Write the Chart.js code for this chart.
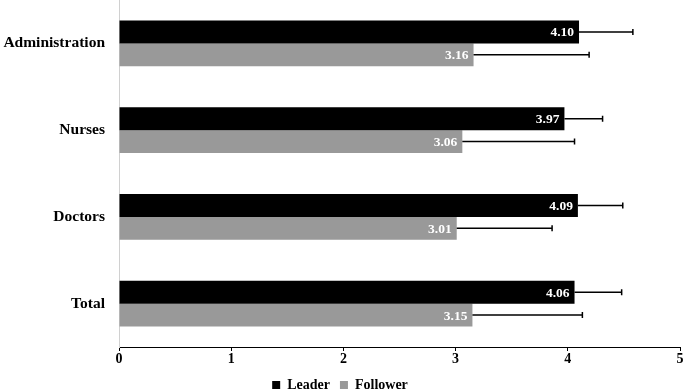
<!DOCTYPE html>
<html><head><meta charset="utf-8">
<script src="https://cdn.jsdelivr.net/npm/chart.js@4.4.1/dist/chart.umd.min.js"></script>
<style>html,body{margin:0;padding:0;background:#fff}#wrap{width:685px;height:392px}</style>
</head><body><div id="wrap"><canvas id="c" width="685" height="392"></canvas></div>
<script>
const categories = ["Administration", "Nurses", "Doctors", "Total"];
const leader = [4.10, 3.97, 4.09, 4.06];
const follower = [3.16, 3.06, 3.01, 3.15];
const leaderErrTop = [4.58, 4.31, 4.49, 4.48];
const followerErrTop = [4.19, 4.06, 3.86, 4.13];
const xTicks = [0, 1, 2, 3, 4, 5];

const FONT = "'Liberation Serif', 'Times New Roman', serif";

const errPlugin = {
  id: 'errbars',
  afterDatasetsDraw(chart) {
    const ctx = chart.ctx;
    const xs = chart.scales.x;
    const tops = [leaderErrTop, followerErrTop];
    chart.data.datasets.forEach((ds, di) => {
      const meta = chart.getDatasetMeta(di);
      meta.data.forEach((bar, i) => {
        const x0 = bar.x;
        const x1 = xs.getPixelForValue(tops[di][i]);
        const y = bar.y;
        ctx.save();
        ctx.strokeStyle = '#000';
        ctx.lineWidth = 1.5;
        ctx.beginPath();
        ctx.moveTo(x0, y); ctx.lineTo(x1, y);
        ctx.moveTo(x1, y - 3); ctx.lineTo(x1, y + 3);
        ctx.stroke();
        ctx.fillStyle = '#fff';
        ctx.font = 'bold 13.5px ' + FONT;
        ctx.textAlign = 'right';
        ctx.textBaseline = 'middle';
        ctx.fillText(ds.data[i].toFixed(2), x0 - 5, y + 1);
        ctx.restore();
      });
    });
  }
};

new Chart(document.getElementById('c'), {
  type: 'bar',
  data: {
    labels: categories,
    datasets: [
      { label: 'Leader', data: leader, backgroundColor: '#000000', borderWidth: 0, barPercentage: 1.0, categoryPercentage: 0.53 },
      { label: 'Follower', data: follower, backgroundColor: '#999999', borderWidth: 0, barPercentage: 1.0, categoryPercentage: 0.53 }
    ]
  },
  options: {
    indexAxis: 'y',
    responsive: false,
    animation: false,
    layout: { padding: { top: 0, right: 5, left: 0, bottom: -10 } },
    plugins: {
      legend: {
        position: 'bottom',
        labels: {
          boxWidth: 8, boxHeight: 8, padding: 10,
          color: '#000',
          font: { family: FONT, size: 14, weight: 'bold' }
        }
      },
      tooltip: { enabled: false }
    },
    scales: {
      x: {
        min: 0, max: 5,
        afterBuildTicks(s) { s.ticks = xTicks.map(v => ({ value: v })); },
        afterFit(s) { s.height = 21; },
        grid: { display: true, drawOnChartArea: false, drawTicks: true, tickLength: 4, color: '#000' },
        border: { display: true, color: '#000', width: 1 },
        ticks: { color: '#000', padding: 0, font: { family: FONT, size: 14, weight: 'bold' } }
      },
      y: {
        afterFit(s) { s.paddingTop = 0; s.paddingBottom = 0; s.width = 119; },
        grid: { display: false, tickLength: 0 },
        border: { display: true, color: '#d0d0d0', width: 1 },
        ticks: { color: '#000', padding: 14, font: { family: FONT, size: 15.5, weight: 'bold' } }
      }
    }
  },
  plugins: [errPlugin]
});
</script>
</body></html>
